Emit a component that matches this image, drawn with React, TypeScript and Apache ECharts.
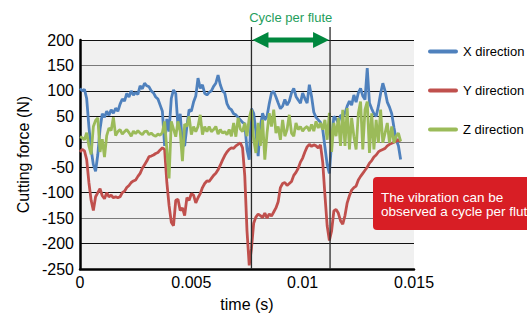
import React, { useEffect, useRef } from "react";
import * as echarts from "echarts";

// sampling step of the force record (s)
const STEP = 0.0001;

// Cutting force, X direction (N)
const xForce = [
  105, 100, 103, 85, 30, -15, -45, -58, -25, 25,
  55, 48, 60, 52, 63, 56, 66, 60, 74, 84,
  80, 95, 88, 100, 92, 97, 93, 110, 104, 115,
  110, 108, 100, 96, 88, 84, 72, 60, -8, 45,
  20, 85, 102, 95, 30, 55, -5, -8, 30, 63,
  60, 78, 90, 125, 105, 112, 95, 92, 97, 100,
  109, 115, 131, 112, 100, 96, 75, 66, 63, 55,
  53, 48, 43, 38, 35, -15, -35, 65, 56, 20,
  -28, 30, 56, 43, 50, 75, 96, 99, 88, 76,
  65, 70, 83, 72, 80, 96, 105, 89, 82, 76,
  96, 85, 76, 112, 89, 58, 48, 43, 38, 24,
  -10, -45, -62, 0, 50, 45, 37, 52, 50, 56,
  70, 80, 72, 92, 78, 96, 105, 90, 83, 145,
  76, 65, 55, 50, 70, 95, 115, 100, 78, 68,
  55, 28, 4, -8, -35,
];

// Cutting force, Y direction (N)
const yForce = [
  -20, -15, -18, -35, -80, -115, -135, -108, -100, -92,
  -106, -112, -100, -108, -105, -110, -108, -110, -108, -100,
  -97, -90, -86, -80, -77, -75, -68, -62, -52, -45,
  -38, -29, -28, -26, -23, -21, -16, -12, -15, -80,
  -125, -158, -165, -115, -113, -135, -130, -145, -110, -115,
  -102, -105, -120, -110, -102, -90, -82, -77, -78, -72,
  -66, -62, -55, -46, -36, -27, -20, -15, -12, -13,
  -8, -5, -2, -12, -67, -175, -243, -210, -160, -148,
  -142, -145, -149, -140, -150, -142, -146, -138, -130, -118,
  -90, -82, -80, -86, -82, -78, -66, -60, -52, -40,
  -32, -20, -10, -5, -9, -6, -8, -12, -6, -40,
  -105, -165, -194, -175, -136, -133, -140, -155, -162, -145,
  -120, -106, -95, -90, -87, -75, -68, -62, -56, -50,
  -42, -37, -30, -26, -20, -17, -15, -13, -8, -5,
  -3, -1, 1, 4, 1,
];

// Cutting force, Z direction (N)
const zForce = [
  10, 8, 4, 18, -8, -25, 30, 42, 47, -20,
  5, -30, 12, 27, 22, 48, 12, 20, 24, 15,
  20, 24, 18, 11, 21, 16, 22, 17, 14, 20,
  21, 14, 17, 13, 11, 15, 13, 18, 40, -15,
  -72, 40, 25, 10, 40, 20, -38, 35, 30, 50,
  14, 30, 20, 30, 53, 14, 30, 20, 30, 20,
  24, 30, 15, 24, 17, 20, 14, 24, 11, 37,
  10, 47, 25, 20, 37, 11, 47, 63, 4, -22,
  37, -8, 43, -35, 17, 56, 30, 63, 17, 30,
  4, 43, 11, 24, 53, 17, 11, 37, 24, 30,
  21, 27, 30, 21, 34, 21, 40, 27, 37, 24,
  43, 4, 57, -20, 37, 11, 47, -8, 63, -8,
  66, -15, 47, 11, -15, 56, 79, -15, 63, 79,
  -22, 56, -15, 43, -2, 63, -2, 17, 37, -2,
  30, -2, 11, 17, 1,
];

const seriesNames = ["X direction", "Y direction", "Z direction"];
const seriesColors = ["#4F81BD", "#C0504D", "#9BBB59"];

// axis ranges
const X_MIN = 0;
const X_MAX = 0.015;
const X_INTERVAL = 0.005;
const Y_MIN = -250;
const Y_MAX = 200;
const Y_INTERVAL = 50;

// one tooth-passing period (s)
const flutePeriod = [0.0077, 0.01123];

const FONT = "'Liberation Sans', Arial, Helvetica, sans-serif";

const times = xForce.map((_, i) => +(i * STEP).toFixed(4));

export default function App() {
  const ref = useRef<HTMLDivElement>(null);

  useEffect(() => {
    if (!ref.current) return;
    const chart = echarts.init(ref.current, null, { renderer: "svg" });
    const all = [xForce, yForce, zForce];
    chart.setOption({
      animation: false,
      backgroundColor: "#ffffff",
      textStyle: { fontFamily: FONT },
      grid: {
        left: 80,
        right: 113,
        top: 40,
        bottom: 47,
        show: true,
        backgroundColor: "#f0f0f0",
        borderWidth: 0,
      },
      legend: {
        orient: "vertical",
        left: 423,
        top: 40,
        itemWidth: 30,
        itemHeight: 14,
        itemGap: 26,
        icon: "path://M2,0 L28,0 Q30,0 30,2 Q30,4 28,4 L2,4 Q0,4 0,2 Q0,0 2,0 Z",
        textStyle: { fontSize: 13, color: "#000", fontFamily: FONT },
        data: seriesNames,
      },
      xAxis: {
        type: "value",
        min: X_MIN,
        max: X_MAX,
        interval: X_INTERVAL,
        name: "time (s)",
        nameLocation: "middle",
        nameGap: 27,
        nameTextStyle: { fontSize: 16, color: "#000", fontFamily: FONT },
        axisLine: { show: true, onZero: false, lineStyle: { color: "#000", width: 2.5 } },
        axisTick: { show: false },
        splitLine: { show: false },
        axisLabel: {
          fontSize: 16,
          color: "#000",
          margin: 5,
          fontFamily: FONT,
          formatter: (v: number) => String(+v.toFixed(3)),
        },
      },
      yAxis: {
        type: "value",
        min: Y_MIN,
        max: Y_MAX,
        interval: Y_INTERVAL,
        name: "Cutting force (N)",
        nameLocation: "middle",
        nameRotate: 90,
        nameGap: 48,
        nameTextStyle: { fontSize: 16, color: "#000", fontFamily: FONT },
        axisLine: { show: true, lineStyle: { color: "#000", width: 2.5 } },
        axisTick: { show: false },
        axisLabel: { fontSize: 16, color: "#000", margin: 6, fontFamily: FONT },
        splitLine: {
          show: true,
          lineStyle: { color: ["#111", "#111", "#7a7a7a"], width: 1.2 },
        },
      },
      series: seriesNames.map((name, k) => ({
        name,
        type: "line",
        symbol: "none",
        color: seriesColors[k],
        lineStyle: { width: 2.8, color: seriesColors[k] },
        data: times.map((t, i) => [t, all[k][i]]),
      })),
    });

    const [x1] = chart.convertToPixel({ gridIndex: 0 }, [flutePeriod[0], Y_MAX]) as number[];
    const [x2, yTop] = chart.convertToPixel({ gridIndex: 0 }, [flutePeriod[1], Y_MAX]) as number[];
    const [, yBot] = chart.convertToPixel({ gridIndex: 0 }, [flutePeriod[1], Y_MIN]) as number[];
    const head = 16;
    const hh = 8;
    const sh = 2.5;
    const yc = yTop;
    const ax1 = x1 + 1;
    const ax2 = x2 - 1;

    chart.setOption({
      graphic: [
        {
          type: "line",
          z: 100,
          shape: { x1: x1, y1: 27, x2: x1, y2: yBot },
          style: { stroke: "#2b2b2b", lineWidth: 1.3 },
        },
        {
          type: "line",
          z: 100,
          shape: { x1: x2, y1: 27, x2: x2, y2: yBot },
          style: { stroke: "#2b2b2b", lineWidth: 1.3 },
        },
        {
          type: "polygon",
          z: 101,
          shape: {
            points: [
              [ax1, yc],
              [ax1 + head, yc - hh],
              [ax1 + head, yc - sh],
              [ax2 - head, yc - sh],
              [ax2 - head, yc - hh],
              [ax2, yc],
              [ax2 - head, yc + hh],
              [ax2 - head, yc + sh],
              [ax1 + head, yc + sh],
              [ax1 + head, yc + hh],
            ],
          },
          style: { fill: "#00873e" },
        },
        {
          type: "text",
          z: 101,
          x: (x1 + x2) / 2,
          y: 17,
          style: {
            text: "Cycle per flute",
            fill: "#1f9e5c",
            fontSize: 13,
            fontFamily: FONT,
            align: "center",
            verticalAlign: "middle",
          },
        },
        {
          type: "rect",
          z: 110,
          shape: { x: 373, y: 177, width: 200, height: 53, r: 4 },
          style: { fill: "#d81e25" },
        },
        {
          type: "text",
          z: 111,
          x: 381,
          y: 204,
          style: {
            text: "The vibration can be\nobserved a cycle per flute",
            fill: "#ffffff",
            fontSize: 13.5,
            lineHeight: 14,
            fontFamily: FONT,
            align: "left",
            verticalAlign: "middle",
          },
        },
      ],
    });

    return () => chart.dispose();
  }, []);

  return (
    <div
      ref={ref}
      style={{ position: "fixed", left: 0, top: 0, width: 527, height: 317 }}
    />
  );
}
